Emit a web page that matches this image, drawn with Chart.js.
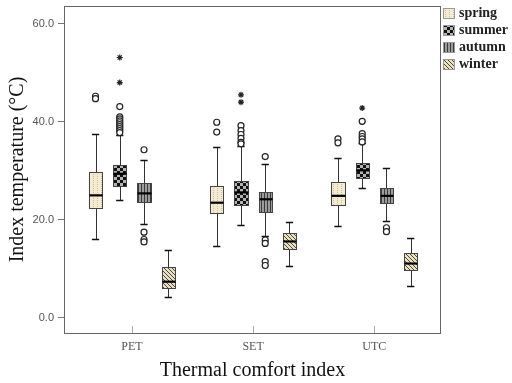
<!DOCTYPE html>
<html>
<head>
<meta charset="utf-8">
<script src="https://cdn.jsdelivr.net/npm/chart.js@4.4.0/dist/chart.umd.min.js"></script>
<style>
  html, body { margin: 0; padding: 0; background: #fff; }
</style>
</head>
<body>
<canvas id="myChart" width="512" height="383"></canvas>
<script>
var categories = ["PET", "SET", "UTC"];
var seasons = ["spring", "summer", "autumn", "winter"];
var yTicks = [0, 20, 40, 60];

// one row per season, one value per index (PET, SET, UTC)
var lowWhisker = [[16.2, 14.7, 18.8], [24.1, 19.0, 26.5], [19.2, 16.7, 19.7], [4.2, 10.6, 6.5]];
var q1 = [[22.4, 21.4, 23.1], [26.9, 23.1, 28.6], [23.6, 21.7, 23.5], [6.2, 14.1, 9.7]];
var median = [[25.0, 23.5, 24.9], [29.4, 25.6, 30.1], [25.4, 24.2, 24.9], [7.4, 15.6, 11.1]];
var q3 = [[29.7, 26.9, 27.8], [31.2, 28.0, 31.6], [27.6, 25.7, 26.4], [10.3, 17.3, 13.3]];
var highWhisker = [[37.5, 34.8, 32.6], [37.3, 35.1, 35.6], [32.2, 31.4, 30.5], [13.8, 19.5, 16.3]];

var circleOutliers = [
  [[45.2, 44.7], [39.9, 37.9], [36.5, 35.7]],
  [[43.1, 41.0, 40.6, 40.2, 39.8, 39.4, 39.0, 38.6, 38.2, 37.8], [39.2, 38.2, 37.4, 36.6, 35.8, 35.5], [40.1, 37.6, 37.0, 36.5, 35.9]],
  [[34.3, 17.5, 16.0, 15.5], [32.9, 15.9, 15.2, 11.5, 10.7], [18.4, 17.6]],
  [[], [], []]
];
var starOutliers = [
  [[], [], []],
  [[53.1, 48.0], [45.5, 44.0], [42.8]],
  [[], [], []],
  [[], [], []]
];

var seasonOffset = [-0.3, -0.1, 0.1, 0.3];
var boxHalf = 0.055;
var capHalf = 0.03;

function makePattern(kind) {
  var c = document.createElement("canvas");
  var g = c.getContext("2d");
  if (kind === "spring") {
    c.width = 4; c.height = 4;
    g.fillStyle = "#f3ecd2"; g.fillRect(0, 0, 4, 4);
    g.fillStyle = "#cbbf98";
    g.fillRect(1, 0, 1, 1); g.fillRect(1, 2, 1, 1);
  } else if (kind === "summer") {
    c.width = 6; c.height = 6;
    g.fillStyle = "#b4b4b4"; g.fillRect(0, 0, 6, 6);
    g.fillStyle = "#111";
    g.fillRect(0, 0, 3, 3); g.fillRect(3, 3, 3, 3);
  } else if (kind === "autumn") {
    c.width = 3; c.height = 1;
    g.fillStyle = "#9c9c9c"; g.fillRect(0, 0, 3, 1);
    g.fillStyle = "#3a3a3a"; g.fillRect(0, 0, 1, 1);
  } else {
    c.width = 4; c.height = 4;
    g.fillStyle = "#e9e0bd"; g.fillRect(0, 0, 4, 4);
    g.fillStyle = "#4a4a4a";
    for (var i = 0; i < 4; i++) g.fillRect(i, i, 1, 1);
  }
  return g.createPattern(c, "repeat");
}

var patterns = seasons.map(makePattern);

var datasets = [];
seasons.forEach(function (s, si) {
  var pts = [];
  var stars = [];
  categories.forEach(function (cat, ci) {
    circleOutliers[si][ci].forEach(function (v) { pts.push({ x: ci + 1 + seasonOffset[si], y: v }); });
    starOutliers[si][ci].forEach(function (v) { stars.push({ x: ci + 1 + seasonOffset[si], y: v }); });
  });
  datasets.push({
    label: s + " outliers", data: pts, pointStyle: "circle", pointRadius: 3,
    backgroundColor: "#fff", borderColor: "#222", borderWidth: 1.2
  });
  datasets.push({
    label: s + " extremes", data: stars, pointStyle: "star", pointRadius: 3,
    backgroundColor: "#222", borderColor: "#222", borderWidth: 1.2
  });
});

var boxPlugin = {
  id: "boxes",
  beforeDatasetsDraw: function (chart) {
    var ctx = chart.ctx, xs = chart.scales.x, ys = chart.scales.y, a = chart.chartArea;
    ctx.save();
    // frame
    ctx.strokeStyle = "#666"; ctx.lineWidth = 1;
    ctx.strokeRect(a.left + 0.5, a.top + 0.5, a.right - a.left - 1, a.bottom - a.top);
    // inward x tick marks
    ctx.strokeStyle = "#aaa";
    categories.forEach(function (c, ci) {
      var px = Math.round(xs.getPixelForValue(ci + 1)) + 0.5;
      ctx.beginPath(); ctx.moveTo(px, a.bottom - 7); ctx.lineTo(px, a.bottom); ctx.stroke();
    });
    seasons.forEach(function (s, si) {
      categories.forEach(function (c, ci) {
        var cx = ci + 1 + seasonOffset[si];
        var xm = Math.round(xs.getPixelForValue(cx)) + 0.5;
        var xl = Math.round(xs.getPixelForValue(cx - boxHalf)) + 0.5;
        var xr = Math.round(xs.getPixelForValue(cx + boxHalf)) + 0.5;
        var cl = xs.getPixelForValue(cx - capHalf);
        var cr = xs.getPixelForValue(cx + capHalf);
        var yLo = Math.round(ys.getPixelForValue(lowWhisker[si][ci])) + 0.5;
        var yHi = Math.round(ys.getPixelForValue(highWhisker[si][ci])) + 0.5;
        var y1 = Math.round(ys.getPixelForValue(q1[si][ci])) + 0.5;
        var y3 = Math.round(ys.getPixelForValue(q3[si][ci])) + 0.5;
        var ym = ys.getPixelForValue(median[si][ci]);
        // whiskers
        ctx.strokeStyle = "#333"; ctx.lineWidth = 1;
        ctx.beginPath();
        ctx.moveTo(xm, yHi); ctx.lineTo(xm, y3);
        ctx.moveTo(xm, y1); ctx.lineTo(xm, yLo);
        ctx.stroke();
        ctx.lineWidth = 1.5; ctx.strokeStyle = "#111";
        ctx.beginPath();
        ctx.moveTo(cl, yHi); ctx.lineTo(cr, yHi);
        ctx.moveTo(cl, yLo); ctx.lineTo(cr, yLo);
        ctx.stroke();
        // box
        ctx.fillStyle = patterns[si];
        ctx.fillRect(xl, y3, xr - xl, y1 - y3);
        ctx.strokeStyle = "#444"; ctx.lineWidth = 1;
        ctx.strokeRect(xl, y3, xr - xl, y1 - y3);
        // median
        ctx.strokeStyle = "#000"; ctx.lineWidth = 2.2;
        ctx.beginPath(); ctx.moveTo(xl, ym); ctx.lineTo(xr, ym); ctx.stroke();
      });
    });
    // legend
    ctx.font = "bold 14px 'Liberation Serif'";
    ctx.textBaseline = "middle";
    seasons.forEach(function (s, si) {
      var ly = 8 + si * 17;
      ctx.fillStyle = patterns[si];
      ctx.fillRect(443, ly, 12, 11);
      ctx.strokeStyle = "#999"; ctx.lineWidth = 1;
      ctx.strokeRect(443.5, ly + 0.5, 11, 10);
      ctx.fillStyle = "#222";
      ctx.fillText(s, 459, ly + 5.5);
    });
    ctx.restore();
  }
};

new Chart("myChart", {
  type: "scatter",
  data: { datasets: datasets },
  plugins: [boxPlugin],
  options: {
    responsive: false,
    animation: false,
    layout: { padding: { top: 6, right: 71, left: 0, bottom: 0 } },
    plugins: { legend: { display: false }, tooltip: { enabled: false } },
    scales: {
      x: {
        type: "linear",
        min: 0.44,
        max: 3.55,
        afterBuildTicks: function (s) { s.ticks = categories.map(function (c, i) { return { value: i + 1 }; }); },
        afterFit: function (s) { s.height = 50; s.paddingLeft = 0; s.paddingRight = 0; },
        grid: { display: false, drawTicks: false },
        border: { display: false },
        ticks: {
          padding: 7,
          color: "#555",
          font: { family: "'Liberation Serif'", size: 12 },
          callback: function (v) { return categories[v - 1]; }
        },
        title: {
          display: true,
          text: "Thermal comfort index",
          color: "#111",
          font: { family: "'Liberation Serif'", size: 20 },
          padding: { top: 0, bottom: 0 }
        }
      },
      y: {
        min: -3.06,
        max: 63.6,
        afterBuildTicks: function (s) { s.ticks = yTicks.map(function (v) { return { value: v }; }); },
        afterFit: function (s) { s.width = 64; s.paddingTop = 0; s.paddingBottom = 0; },
        grid: { drawOnChartArea: false, tickLength: 6, color: "#777" },
        border: { display: false },
        ticks: {
          padding: 4,
          color: "#555",
          font: { family: "'Liberation Sans'", size: 11 },
          callback: function (v) { return v.toFixed(1); }
        },
        title: {
          display: true,
          text: "Index temperature (°C)",
          color: "#111",
          font: { family: "'Liberation Serif'", size: 20 },
          padding: { top: 6, bottom: 0 }
        }
      }
    }
  }
});
</script>
</body>
</html>
